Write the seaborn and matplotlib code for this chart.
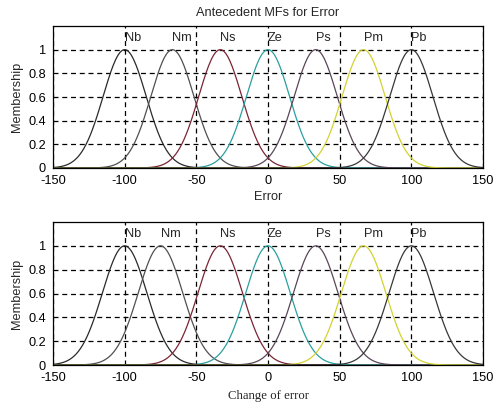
import numpy as np
import pandas as pd
import matplotlib
matplotlib.use("Agg")
import matplotlib.pyplot as plt
import seaborn as sns

labels = ["Nb", "Nm", "Ns", "Ze", "Ps", "Pm", "Pb"]
centers_err = [-100, -66.7, -33.3, 0, 33.3, 66.7, 100]
centers_derr = [-100, -75, -33.3, 0, 33.3, 66.7, 100]
sigma_err = [15, 15, 15, 15, 15, 15, 15]
sigma_derr = [15.5, 15.5, 15.5, 15.5, 15.5, 15.5, 15.5]
colors = ["#2a2a2a", "#505050", "#7a2535", "#2a9f9f", "#5a4658", "#d2d232", "#383838"]
xticks = [-150, -100, -50, 0, 50, 100, 150]
yticks = [0, 0.2, 0.4, 0.6, 0.8, 1]
ytick_labels = ["0", "0.2", "0.4", "0.6", "0.8", "1"]

sns.set_style("white")
plt.rcParams['font.family'] = ['Liberation Sans', 'DejaVu Sans']

fig = plt.figure(figsize=(5.01, 4.03), dpi=100)
W, H = 501, 403
ax1 = fig.add_axes([53 / W, 1 - 168 / H, 430 / W, 142 / H])
ax2 = fig.add_axes([53 / W, 1 - 365 / H, 430 / W, 143 / H])

x = np.linspace(-150, 150, 601)
FS = 9.2

def draw(ax, centers, sigmas):
    rows = []
    for lab, c, s in zip(labels, centers, sigmas):
        y = np.exp(-((x - c) ** 2) / (2 * s ** 2))
        rows.append(pd.DataFrame({"x": x, "y": y, "mf": lab}))
    df = pd.concat(rows)
    sns.lineplot(data=df, x="x", y="y", hue="mf", palette=dict(zip(labels, colors)),
                 ax=ax, legend=False, linewidth=0.9)
    for lab, c in zip(labels, centers):
        ax.text(c, 1.1, lab, ha="left", va="center", fontsize=FS)
    ax.set_xlim(-150, 150)
    ax.set_ylim(0, 1.2)
    ax.set_xticks(xticks)
    ax.set_xticklabels([str(t) for t in xticks], fontsize=FS)
    ax.set_yticks(yticks)
    ax.set_yticklabels(ytick_labels, fontsize=FS)
    ax.grid(True, color="black", linestyle=(0, (4, 3)), linewidth=0.9)
    ax.set_axisbelow(True)
    for sp in ax.spines.values():
        sp.set_visible(True)
        sp.set_color("black")
        sp.set_linewidth(0.9)
    ax.tick_params(direction="in", length=3, width=0.8, colors="black")
    ax.tick_params(axis="x", pad=5)
    ax.tick_params(axis="y", pad=5)
    ax.set_ylabel("Membership", fontsize=FS, labelpad=4)

draw(ax1, centers_err, sigma_err)
draw(ax2, centers_derr, sigma_derr)

ax1.set_xlabel("Error", fontsize=FS, labelpad=3)
ax1.set_title("Antecedent MFs for Error", fontsize=FS, pad=7)
ax2.set_xlabel("Change of error", fontsize=FS, labelpad=4,
               family=["Liberation Serif", "DejaVu Serif"])

fig.savefig("out.png", dpi=100)
